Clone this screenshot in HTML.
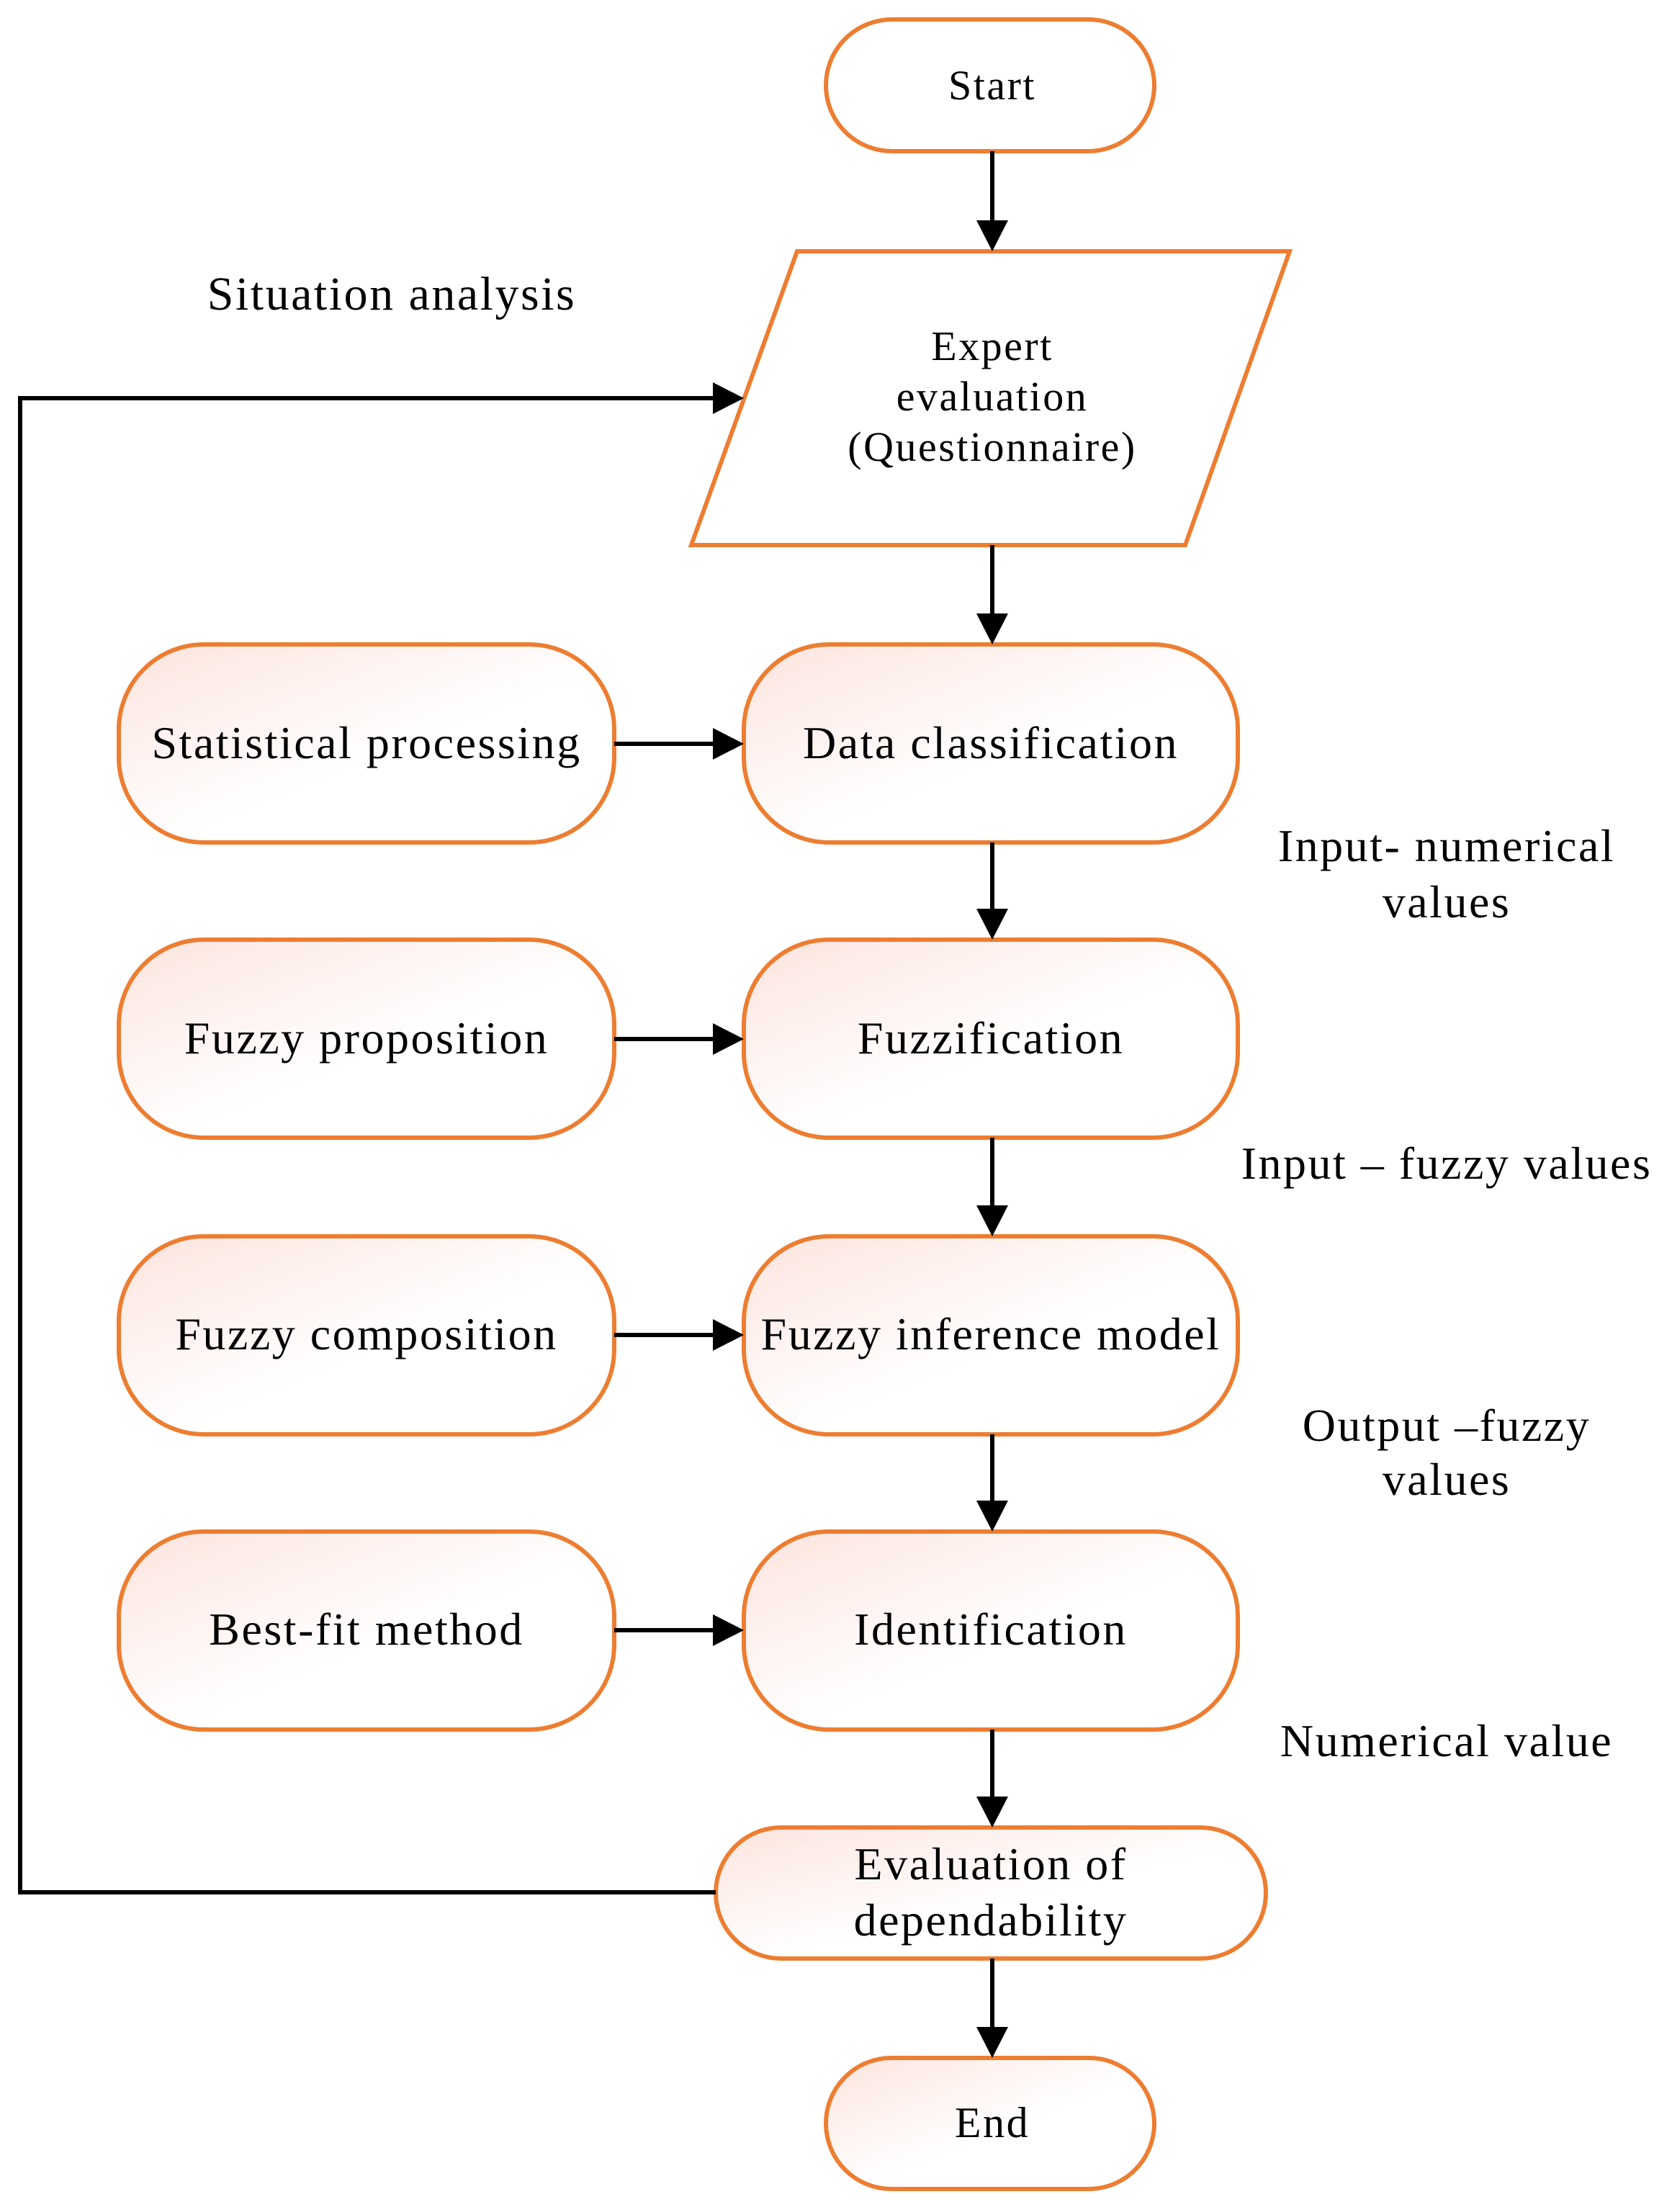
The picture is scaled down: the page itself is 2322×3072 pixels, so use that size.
<!DOCTYPE html>
<html><head><meta charset="utf-8"><style>html,body{margin:0;padding:0;background:#fff}svg{display:block}</style></head><body>
<svg width="2322" height="3072" viewBox="0 0 2322 3072" xmlns="http://www.w3.org/2000/svg" font-family="'Liberation Serif', serif" font-size="64" letter-spacing="2.5" text-anchor="middle">
<defs>
<linearGradient id="g" x1="0" y1="0" x2="1" y2="1">
<stop offset="0" stop-color="#fce4de"/><stop offset="0.55" stop-color="#ffffff"/><stop offset="1" stop-color="#ffffff"/>
</linearGradient>
</defs>
<g stroke="#ED7D31" stroke-width="6">
<rect x="1147" y="27" width="456" height="183" rx="92" fill="#fff"/>
<polygon points="1107,349 1791,349 1646,757 960,757" fill="#fff"/>
<rect x="1033" y="895" width="686" height="275" rx="118" fill="url(#g)"/>
<rect x="165" y="895" width="688" height="275" rx="118" fill="url(#g)"/>
<rect x="1033" y="1305" width="686" height="275" rx="118" fill="url(#g)"/>
<rect x="165" y="1305" width="688" height="275" rx="118" fill="url(#g)"/>
<rect x="1033" y="1717" width="686" height="275" rx="118" fill="url(#g)"/>
<rect x="165" y="1717" width="688" height="275" rx="118" fill="url(#g)"/>
<rect x="1033" y="2127" width="686" height="275" rx="118" fill="url(#g)"/>
<rect x="165" y="2127" width="688" height="275" rx="118" fill="url(#g)"/>
<rect x="994" y="2538" width="764" height="182" rx="91" fill="url(#g)"/>
<rect x="1147" y="2858" width="456" height="182" rx="91" fill="url(#g)"/>
</g>
<g stroke="#000" stroke-width="6" fill="none">
<line x1="1378" y1="210" x2="1378" y2="310"/>
<line x1="1378" y1="757" x2="1378" y2="855"/>
<line x1="1378" y1="1170" x2="1378" y2="1265"/>
<line x1="1378" y1="1580" x2="1378" y2="1677"/>
<line x1="1378" y1="1992" x2="1378" y2="2087"/>
<line x1="1378" y1="2402" x2="1378" y2="2498"/>
<line x1="1378" y1="2720" x2="1378" y2="2818"/>
<line x1="853" y1="1033" x2="993" y2="1033"/>
<line x1="853" y1="1443" x2="993" y2="1443"/>
<line x1="853" y1="1854" x2="993" y2="1854"/>
<line x1="853" y1="2264" x2="993" y2="2264"/>
<polyline points="994,2628 28,2628 28,553 993,553"/>
</g>
<g fill="#000">
<polygon points="1356,306 1400,306 1378,349"/>
<polygon points="1356,852 1400,852 1378,895"/>
<polygon points="1356,1262 1400,1262 1378,1305"/>
<polygon points="1356,1674 1400,1674 1378,1717"/>
<polygon points="1356,2084 1400,2084 1378,2127"/>
<polygon points="1356,2495 1400,2495 1378,2538"/>
<polygon points="1356,2815 1400,2815 1378,2858"/>
<polygon points="990,1011 990,1055 1033,1033"/>
<polygon points="990,1421 990,1465 1033,1443"/>
<polygon points="990,1832 990,1876 1033,1854"/>
<polygon points="990,2242 990,2286 1033,2264"/>
<polygon points="990,531 990,575 1033,553"/>
</g>
<g fill="#000">
<text x="1378" y="138" font-size="58">Start</text>
<text x="1378" y="500" font-size="58">Expert</text>
<text x="1378" y="570" font-size="58">evaluation</text>
<text x="1378" y="640" font-size="58">(Questionnaire)</text>
<text x="1376" y="1053">Data classification</text>
<text x="509" y="1053">Statistical processing</text>
<text x="1376" y="1463">Fuzzification</text>
<text x="509" y="1463">Fuzzy proposition</text>
<text x="1376" y="1874">Fuzzy inference model</text>
<text x="509" y="1874">Fuzzy composition</text>
<text x="1376" y="2284">Identification</text>
<text x="509" y="2284">Best-fit method</text>
<text x="1376" y="2610">Evaluation of</text>
<text x="1376" y="2688">dependability</text>
<text x="1378" y="2968" font-size="60">End</text>
<text x="544" y="430" font-size="66">Situation analysis</text>
<text x="2009" y="1196">Input- numerical</text>
<text x="2009" y="1274">values</text>
<text x="2009" y="1637">Input – fuzzy values</text>
<text x="2009" y="2001">Output –fuzzy</text>
<text x="2009" y="2076">values</text>
<text x="2009" y="2439">Numerical value</text>
</g>
</svg>
</body></html>
